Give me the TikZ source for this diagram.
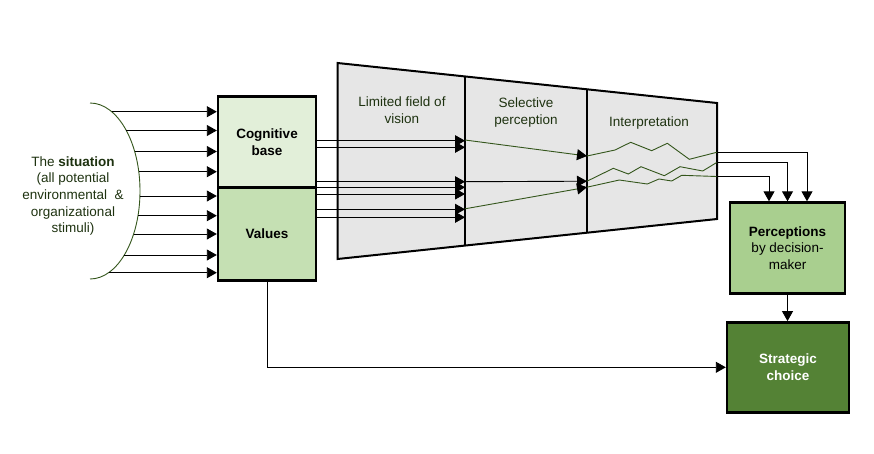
\documentclass[tikz,border=0pt]{standalone}
\usepackage{fontspec}
\setmainfont{Liberation Sans}
\usetikzlibrary{arrows.meta,calc}
\definecolor{cbfill}{HTML}{E2EFD9}
\definecolor{valfill}{HTML}{C5E0B3}
\definecolor{perfill}{HTML}{A9CF8F}
\definecolor{strfill}{HTML}{548235}
\definecolor{trapfill}{HTML}{E6E6E6}
\definecolor{dkgreen}{HTML}{34561C}
\definecolor{txtgreen}{HTML}{1E3210}
\begin{document}
\begin{tikzpicture}[x=1pt,y=-1pt,
  box/.style={draw=black,line width=2.4pt,inner sep=2pt,align=center,
    font=\fontsize{13.5}{16.5}\selectfont},
  conn/.style={line width=0.9pt,-{Triangle[length=10pt,width=11pt]}},
  gconn/.style={line width=0.9pt,draw=dkgreen,-{Triangle[length=10pt,width=11pt,color=black]}},
  zig/.style={line width=0.9pt,draw=dkgreen},
  lbl/.style={align=center,text=txtgreen,font=\fontsize{13.5}{16.5}\selectfont},
  trap/.style={draw=black,line width=2pt,fill=trapfill},
  divider/.style={draw=black,line width=2pt}]
\useasboundingbox (0,0) rectangle (874,453);

% situation arc
\draw[draw=dkgreen,line width=0.9pt] (90,103) .. controls (117.6,103) and (140,142.4) .. (140,191)
  .. controls (140,239.6) and (117.6,279) .. (90,279);
\node[align=center,text=txtgreen,font=\fontsize{13.5}{16.7}\selectfont] (sit) at (73,196)
  {The \textbf{situation}\\(all potential\\environmental\ \ \&\\organizational\\stimuli)};

% boxes
\node[box,fill=cbfill,minimum width=98pt,minimum height=91pt,font=\fontsize{13.5}{16.5}\selectfont\bfseries] (cb) at (267,142) {Cognitive\\base};
\node[box,fill=valfill,minimum width=98pt,minimum height=93pt,font=\fontsize{13.5}{16.5}\selectfont\bfseries] (val) at (267,234) {Values};
\node[box,fill=perfill,minimum width=115pt,minimum height=91pt] (per) at (787.5,248) {\textbf{Perceptions}\\by decision-\\maker};
\node[box,fill=strfill,minimum width=122pt,minimum height=90pt,text=white,font=\fontsize{13.5}{16.5}\selectfont\bfseries] (str) at (788,367.3) {Strategic\\choice};

% trapezoid
\coordinate (t1) at (337.5,63);
\coordinate (t2) at (717,103);
\coordinate (t3) at (717,219);
\coordinate (t4) at (337.5,259);
\draw[trap] (t1) -- (t2) -- (t3) -- (t4) -- cycle;
\coordinate (d1t) at (465,76.4);
\coordinate (d1b) at (465,245.6);
\coordinate (d2t) at (587,89.3);
\coordinate (d2b) at (587,232.7);
\draw[divider] (d1t) -- (d1b);
\draw[divider] (d2t) -- (d2b);
\node[lbl] (l1) at (402,110) {Limited field of\\vision};
\node[lbl] (l2) at (526,112.5) {Selective\\perception};
\node[lbl] (l3) at (649,123) {Interpretation};

% stimuli arrows
\coordinate (s1) at (111.7,111.7);
\coordinate (s2) at (126.3,130.5);
\coordinate (s3) at (134.7,151.5);
\coordinate (s4) at (138.8,171.7);
\coordinate (s5) at (139.9,196);
\coordinate (s6) at (138,215.7);
\coordinate (s7) at (133.6,234);
\coordinate (s8) at (124.3,255);
\coordinate (s9) at (108.6,272.7);
\foreach \i in {1,2,3,4}{\draw[conn] (s\i) -- (cb.west |- s\i);}
\foreach \i in {5,6,7,8,9}{\draw[conn] (s\i) -- (val.west |- s\i);}

% box to first divider
\foreach \y [count=\i] in {140.7,147.3,181.7,187.3}{
  \coordinate (m\i) at (465,\y);
  \draw[conn] (cb.east |- m\i) -- (m\i);}
\foreach \y [count=\i from 5] in {194,209.3,217.3}{
  \coordinate (m\i) at (465,\y);
  \draw[conn] (val.east |- m\i) -- (m\i);}

% selective perception
\coordinate (a1) at (465,140);
\coordinate (b1) at (587,156);
\coordinate (b2) at (587,181.2);
\coordinate (a3) at (465,208.8);
\coordinate (b3) at (587,187.2);
\draw[gconn] (a1) -- (b1);
\draw[conn] (m3) -- (b2);
\draw[gconn] (a3) -- (b3);

% interpretation zigzags
\coordinate (c1) at (716.7,152.3);
\coordinate (c2) at (716.7,162.5);
\coordinate (c3) at (716.7,176.5);
\draw[zig] (b1) -- (615,150) -- (630.7,142.3) -- (651.7,150.7) -- (667.3,143.3) -- (689.3,159.3) -- (c1);
\draw[zig] (b2) -- (613.3,168.3) -- (628.3,174) -- (641,166.7) -- (664.3,175.7) -- (680,166.7) -- (702.7,171) -- (c2);
\draw[zig] (b3) -- (619.3,180) -- (647.3,184) -- (659,179) -- (671.7,181) -- (681.7,175.3) -- (c3);

% to perceptions
\draw[conn] (c1) -| ([xshift=19.5pt]per.north);
\draw[conn] (c2) -| (per.north);
\draw[conn] (c3) -| ([xshift=-18.5pt]per.north);

% to strategic choice
\draw[conn] (per.south) -- (per.south |- str.north);
\draw[conn] (val.south) |- (str.west);
\end{tikzpicture}
\end{document}
